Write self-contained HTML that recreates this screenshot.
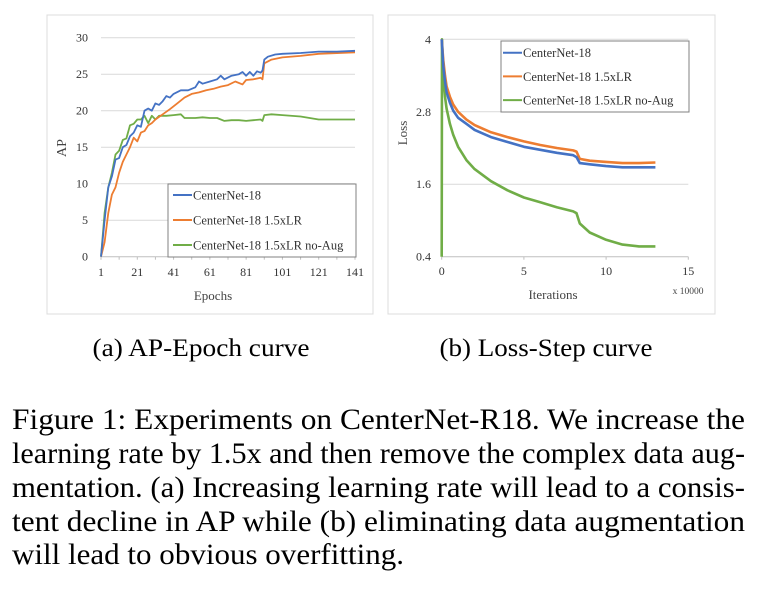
<!DOCTYPE html>
<html><head><meta charset="utf-8">
<style>
html,body{margin:0;padding:0;background:#fff;}
svg{display:block;font-family:"Liberation Serif",serif;}
</style></head>
<body>
<svg id="fig" width="779" height="589" viewBox="0 0 779 589">
  <rect x="47" y="15" width="326" height="299" fill="#fff" stroke="#dcdcdc"/>
  <rect x="388" y="15" width="327" height="299" fill="#fff" stroke="#dcdcdc"/>
  <g id="chartA"></g>
  <g id="chartB"></g>
  <text x="201" y="356" font-size="25.5" text-anchor="middle" textLength="217" lengthAdjust="spacingAndGlyphs">(a) AP-Epoch curve</text>
  <text x="546" y="356" font-size="25.5" text-anchor="middle" textLength="213" lengthAdjust="spacingAndGlyphs">(b) Loss-Step curve</text>
  <g font-size="29.5">
    <text x="12" y="429" textLength="733" lengthAdjust="spacingAndGlyphs">Figure 1: Experiments on CenterNet-R18. We increase the</text>
    <text x="12" y="463" textLength="733" lengthAdjust="spacingAndGlyphs">learning rate by 1.5x and then remove the complex data aug-</text>
    <text x="12" y="497" textLength="733" lengthAdjust="spacingAndGlyphs">mentation. (a) Increasing learning rate will lead to a consis-</text>
    <text x="12" y="531" textLength="733" lengthAdjust="spacingAndGlyphs">tent decline in AP while (b) eliminating data augmentation</text>
    <text x="12" y="564" textLength="392" lengthAdjust="spacingAndGlyphs">will lead to obvious overfitting.</text>
  </g>
</svg>
<script>
// ---- Chart A data ----
const aSeriesNames = ["CenterNet-18", "CenterNet-18 1.5xLR", "CenterNet-18 1.5xLR no-Aug"];
const aYTicks = [0, 5, 10, 15, 20, 25, 30];
const aXTicks = [1, 21, 41, 61, 81, 101, 121, 141];
const aBlueX = [1,3,5,7,9,11,13,15,17,19,21,23,25,27,29,31,33,35,37,39,41,45,49,53,55,57,61,65,67,69,73,77,79,81,83,85,87,89,90,91,93,97,101,111,121,131,141];
const aBlueY = [0,5,9.5,11,13.3,13.5,15,15.3,16.5,17,18,17.8,20,20.3,20,21,20.8,21.3,22,21.8,22.3,22.8,22.8,23.2,24,23.7,24,24.3,24.8,24.3,24.8,25,25.3,24.8,25.3,24.8,25.4,25.2,25.5,27,27.4,27.7,27.8,27.9,28.1,28.1,28.2];
const aOrangeX = [1,3,5,7,9,11,13,15,17,19,21,23,25,27,29,31,35,39,43,47,51,55,59,63,67,71,75,79,81,85,89,90,91,95,101,111,121,141];
const aOrangeY = [0,2,6,8.5,9.5,11.5,13,14,15,16.3,15.8,17,17.2,18,18.3,18.8,19.5,20.2,21,21.8,22.3,22.5,22.8,23,23.3,23.5,24,23.6,24.2,24.3,24.5,24.3,26.5,27,27.3,27.5,27.8,28];
const aGreenX = [1,3,5,7,9,11,13,15,17,19,21,23,25,27,29,31,33,37,41,45,47,53,57,61,65,69,73,77,81,85,89,90,91,95,101,111,121,131,141];
const aGreenY = [0,6,9.5,11.5,14,14.5,16,16.2,18,18.2,18.8,18.8,19.3,18.3,19.3,18.8,19.3,19.3,19.4,19.5,19,19,19.1,19,19,18.6,18.7,18.7,18.6,18.7,18.8,18.6,19.4,19.5,19.4,19.2,18.8,18.8,18.8];

// ---- Chart B data ----
const bYTicks = [0.4, 1.6, 2.8, 4];
const bYTickLabels = ["0.4", "1.6", "2.8", "4"];
const bXTicks = [0, 5, 10, 15];
const bBlueX = [0,0.1,0.2,0.3,0.5,0.7,1,1.5,2,3,4,5,6,7,8,8.2,8.4,9,10,11,12,13];
const bBlueY = [4,3.55,3.3,3.12,2.95,2.82,2.7,2.6,2.5,2.38,2.3,2.22,2.17,2.12,2.08,2.05,1.95,1.93,1.9,1.88,1.88,1.88];
const bOrangeX = [0,0.1,0.2,0.3,0.5,0.7,1,1.5,2,3,4,5,6,7,8,8.2,8.4,9,10,11,12,13];
const bOrangeY = [4,3.65,3.4,3.22,3.05,2.92,2.8,2.67,2.58,2.46,2.38,2.31,2.25,2.2,2.16,2.14,2.02,1.99,1.97,1.95,1.95,1.96];
const bGreenX = [0,0.02,0.1,0.2,0.3,0.5,0.7,1,1.5,2,3,4,5,6,7,8,8.2,8.4,9,10,11,12,13];
const bGreenY = [0.4,4,3.4,3.05,2.85,2.6,2.42,2.22,2.0,1.85,1.65,1.5,1.38,1.3,1.22,1.15,1.12,0.95,0.8,0.68,0.6,0.57,0.57];

const COLORS = ["#4472C4", "#ED7D31", "#70AD47"];
const NS = "http://www.w3.org/2000/svg";
function mk(parent, tag, attrs, text) {
  const e = document.createElementNS(NS, tag);
  for (const k in attrs) e.setAttribute(k, attrs[k]);
  if (text !== undefined) e.textContent = text;
  parent.appendChild(e);
  return e;
}

// Chart A
(function(){
  const g = document.getElementById('chartA');
  const x0 = 101, x1 = 355, y0 = 256.7, y1 = 37.7;
  const xs = v => x0 + (v - 1) / 140 * (x1 - x0);
  const ys = v => y0 - v / 30 * (y0 - y1);
  aYTicks.forEach(t => {
    if (t > 0) {
      const l = mk(g, 'line', {x1: x0, x2: x1, y1: ys(t), y2: ys(t), stroke: '#d9d9d9', 'stroke-width': 1});
      
      
    }
    const tx = mk(g, 'text', {x: 88, y: ys(t) + 4, 'font-size': 12, 'text-anchor': 'end', fill: '#333'}, String(t));
    
    
  });
  const ax = mk(g, 'line', {x1: x0, x2: x1, y1: y0, y2: y0, stroke: '#bfbfbf', 'stroke-width': 1});
  
  
  for (let e = 1; e <= 141; e += 10) {
    const tk = mk(g, 'line', {x1: xs(e), x2: xs(e), y1: y0, y2: y0 + 3, stroke: '#bfbfbf'});
    
    
  }
  aXTicks.forEach(t => {
    const tx = mk(g, 'text', {x: xs(t), y: 276, 'font-size': 12, 'text-anchor': 'middle', fill: '#333'}, String(t));
    
    
  });
  const xt = mk(g, 'text', {x: 213, y: 300, 'font-size': 13, 'text-anchor': 'middle', fill: '#444'}, 'Epochs');
  
  
  const yt = mk(g, 'text', {x: 0, y: 0, 'font-size': 14, 'text-anchor': 'middle', fill: '#444', transform: 'translate(66,148) rotate(-90)'}, 'AP');
  
  
  const series = [[aBlueX, aBlueY], [aOrangeX, aOrangeY], [aGreenX, aGreenY]];
  [2,1,0].forEach(i => {
    const [X, Y] = series[i];
    const d = X.map((x, k) => (k ? 'L' : 'M') + xs(x).toFixed(1) + ',' + ys(Y[k]).toFixed(1)).join('');
    const p = mk(g, 'path', {d: d, fill: 'none', stroke: COLORS[i], 'stroke-width': 1.8, 'stroke-linejoin': 'round'});
    
    
  });
  const lg = mk(g, 'rect', {x: 168, y: 184, width: 188, height: 73, fill: '#fff', stroke: '#808080'});
  
  
  aSeriesNames.forEach((n, i) => {
    const y = 195 + i * 25;
    const l = mk(g, 'line', {x1: 173, x2: 192, y1: y, y2: y, stroke: COLORS[i], 'stroke-width': 2});
    
    
    const t = mk(g, 'text', {x: 193, y: y + 4.5, 'font-size': 12.5, fill: '#333'}, n);
    
    
  });
})();

// Chart B
(function(){
  const g = document.getElementById('chartB');
  const x0 = 441.7, x1 = 688.3, y0 = 256.7, y1 = 39.3;
  const xs = v => x0 + v / 15 * (x1 - x0);
  const ys = v => y0 - (v - 0.4) / 3.6 * (y0 - y1);
  bYTicks.forEach((t, i) => {
    if (i > 0) {
      const l = mk(g, 'line', {x1: x0, x2: x1, y1: ys(t), y2: ys(t), stroke: '#d9d9d9'});
      
      
    }
    const tx = mk(g, 'text', {x: 431, y: ys(t) + 4, 'font-size': 12, 'text-anchor': 'end', fill: '#333'}, bYTickLabels[i]);
    
    
  });
  const ax = mk(g, 'line', {x1: x0, x2: x1, y1: y0, y2: y0, stroke: '#bfbfbf'});
  
  
  bXTicks.forEach(t => {
    const tk = mk(g, 'line', {x1: xs(t), x2: xs(t), y1: y0, y2: y0 + 3, stroke: '#bfbfbf'});
    
    
    const tx = mk(g, 'text', {x: xs(t), y: 275, 'font-size': 12, 'text-anchor': 'middle', fill: '#333'}, String(t));
    
    
  });
  const xt = mk(g, 'text', {x: 553, y: 299, 'font-size': 13, 'text-anchor': 'middle', fill: '#444'}, 'Iterations');
  
  
  const xu = mk(g, 'text', {x: 688, y: 294, 'font-size': 9.5, 'text-anchor': 'middle', fill: '#444'}, 'x 10000');
  
  
  const yt = mk(g, 'text', {x: 0, y: 0, 'font-size': 13, 'text-anchor': 'middle', fill: '#444', transform: 'translate(407,133) rotate(-90)'}, 'Loss');
  
  
  const series = [[bBlueX, bBlueY], [bOrangeX, bOrangeY], [bGreenX, bGreenY]];
  [2,1,0].forEach(i => {
    const [X, Y] = series[i];
    const d = X.map((x, k) => (k ? 'L' : 'M') + xs(x).toFixed(1) + ',' + ys(Y[k]).toFixed(1)).join('');
    const p = mk(g, 'path', {d: d, fill: 'none', stroke: COLORS[i], 'stroke-width': 2.6, 'stroke-linejoin': 'round'});
    
    
  });
  const lg = mk(g, 'rect', {x: 501, y: 41, width: 188, height: 71, fill: '#fff', stroke: '#808080'});
  
  
  aSeriesNames.forEach((n, i) => {
    const y = 52.7 + i * 23.7;
    const l = mk(g, 'line', {x1: 503, x2: 522, y1: y, y2: y, stroke: COLORS[i], 'stroke-width': 2});
    
    
    const t = mk(g, 'text', {x: 523, y: y + 4.5, 'font-size': 12.5, fill: '#333'}, n);
    
    
  });
})();
</script>
</body></html>
